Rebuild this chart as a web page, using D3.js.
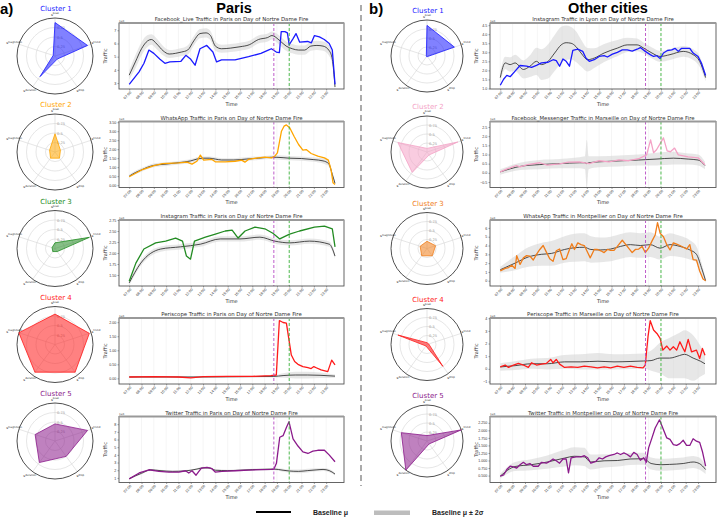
<!DOCTYPE html>
<html lang="en">
<head>
<meta charset="UTF-8"/>
<title>Traffic on Day of Nortre Dame Fire</title>
<script src="https://cdn.jsdelivr.net/npm/d3@7"></script>
<style>
  body { margin: 0; background: #fff; }
  svg { font-family: "DejaVu Sans", sans-serif; }
</style>
</head>
<body>
<script>
var W = 719, H = 517;

// x axis
var tickHours = d3.range(7, 24);
var timeTicks = ["07:00","08:00","09:00","10:00","11:00","12:00","13:00","14:00","15:00",
                 "16:00","17:00","18:00","19:00","20:00","21:00","22:00","23:00"];
var fireStart = 18.75, fireMark = 20.0;

// radar charts
var radarAxes = ["peak", "trend", "drop", "duration", "magnitude"];
var parisClusters = [
  [0.88, 0.9, 0.1, 0.67, 0.05],
  [0.48, 0.15, 0.2, 0.2, 0.15],
  [0.15, 0.95, 0.1, 0.1, 0.08],
  [0.8, 0.95, 0.9, 0.9, 1.0],
  [0.45, 0.9, 0.5, 0.7, 0.55]
];
var parisColors = ["#1a1aff", "#ffa500", "#228b22", "#ff1a1a", "#8b1a8b"];
var otherClusters = [
  [0.85, 0.8, 0.02, 0.02, 0.02],
  [0.1, 0.9, 0.1, 0.7, 0.85],
  [0.2, 0.25, 0.25, 0.25, 0.2],
  [0.05, 0.05, 0.75, 0.05, 0.85],
  [0.15, 1.0, 0.1, 1.0, 0.75]
];
var otherColors = ["#1a1aff", "#f4a3c6", "#f07d1a", "#ff1a1a", "#8b1a8b"];
var clusterNames = ["Cluster 1", "Cluster 2", "Cluster 3", "Cluster 4", "Cluster 5"];

// observed traffic: [hour, value]
var fbLiveParis = [[7.0,2.9],[7.8,3.85],[8.2,4.5],[8.6,5.5],[9.0,5.25],[9.5,4.8],[9.9,4.5],[10.3,4.6],[11.2,4.65],[11.6,5.1],[12.0,4.8],[12.35,4.35],[12.75,5.6],[13.3,5.85],[13.8,5.35],[14.1,4.6],[14.5,4.75],[15.6,4.75],[16.7,5.0],[17.7,5.25],[18.3,5.5],[18.55,5.6],[18.95,5.35],[19.2,5.3],[19.35,6.9],[19.65,6.9],[19.85,6.8],[20.0,5.9],[20.3,6.35],[20.55,6.75],[20.85,6.1],[21.5,6.15],[21.8,6.05],[22.05,6.6],[22.45,6.5],[22.85,6.3],[23.25,6.0],[23.5,5.5],[23.72,2.9]];
var whatsappParis = [[7.0,0.47],[8.08,0.87],[9.02,1.09],[9.69,1.2],[11.03,1.24],[11.7,1.28],[12.1,1.17],[12.5,1.33],[12.78,1.67],[13.05,1.39],[13.72,1.43],[13.99,1.3],[14.8,1.3],[15.6,1.33],[16.14,1.39],[16.4,1.28],[16.68,1.43],[17.48,1.52],[18.02,1.56],[18.56,1.52],[18.83,1.61],[19.04,1.8],[19.37,3.0],[19.58,3.28],[19.77,3.35],[20.04,3.19],[20.39,2.72],[20.76,2.26],[21.11,1.95],[21.38,1.98],[21.78,1.76],[22.32,1.61],[22.86,1.52],[23.18,1.39],[23.4,0.85],[23.56,0.13],[23.72,0.04]];
var instagramParis = [[7.0,1.36],[7.54,1.77],[8.19,2.09],[9.15,2.23],[9.96,2.27],[10.77,2.34],[11.33,2.27],[11.65,1.93],[11.98,1.86],[12.3,2.27],[13.19,2.36],[14.0,2.43],[14.8,2.5],[15.36,2.52],[15.85,2.34],[16.41,2.5],[17.22,2.59],[18.02,2.55],[18.67,2.45],[19.23,2.32],[20.03,2.43],[20.84,2.5],[22.05,2.59],[22.86,2.61],[23.5,2.55],[23.72,2.14]];
var periscopeParis = [[7.0,0.05],[9.0,0.06],[11.0,0.05],[12.0,0.02],[13.0,0.06],[15.0,0.07],[17.0,0.07],[18.5,0.1],[18.95,0.12],[19.2,2.06],[19.5,1.99],[19.77,1.97],[20.17,0.83],[20.44,0.6],[20.71,0.5],[21.11,0.42],[21.52,0.38],[21.78,0.35],[22.0,0.42],[22.19,0.38],[22.59,0.3],[23.13,0.24],[23.45,0.65],[23.72,0.48]];
var twitterParis = [[7.0,0.87],[7.81,1.64],[8.61,2.06],[9.42,1.84],[10.23,1.76],[11.03,1.76],[11.57,1.93],[11.84,1.64],[12.1,1.93],[12.43,1.35],[12.86,2.27],[13.32,2.36],[13.72,2.2],[13.99,1.76],[14.53,1.84],[15.6,1.93],[16.68,2.0],[17.75,2.08],[18.56,2.1],[18.75,2.12],[18.96,2.9],[19.23,6.3],[19.5,6.5],[19.77,7.57],[19.98,8.33],[20.31,6.09],[20.71,5.15],[21.11,4.4],[21.52,4.18],[21.92,4.48],[22.32,4.6],[22.86,4.6],[23.26,3.97],[23.72,3.1]];
var instagramLyon = [[7.0,1.18],[7.27,1.51],[7.53,1.72],[7.8,1.65],[8.2,1.96],[8.6,2.27],[9.13,2.23],[9.53,2.17],[9.93,2.28],[10.33,2.41],[10.87,2.45],[11.27,2.59],[11.53,2.54],[11.8,2.23],[12.07,2.63],[12.33,2.5],[12.6,2.23],[12.87,3.1],[13.27,3.17],[13.67,3.05],[13.93,2.68],[14.2,2.5],[14.6,2.59],[15.0,2.77],[15.4,2.81],[15.67,2.74],[16.07,2.9],[16.47,3.0],[16.87,3.13],[17.27,3.13],[17.67,3.07],[18.07,3.17],[18.33,3.26],[18.73,3.05],[19.13,2.87],[19.4,2.77],[19.67,2.81],[19.93,2.65],[20.2,2.96],[20.52,3.1],[20.87,3.13],[21.13,3.22],[21.4,3.05],[21.67,3.22],[21.93,3.22],[22.33,3.22],[22.6,2.96],[23.0,2.77],[23.27,2.41],[23.61,1.72]];
var messengerMarseille = [[7.0,0.05],[7.5,0.2],[7.8,0.27],[8.3,0.4],[8.6,0.33],[9.2,0.45],[10.2,0.55],[10.8,0.42],[11.8,0.49],[12.5,0.58],[13.4,0.6],[14.2,0.5],[15.0,0.66],[15.8,0.6],[16.6,0.71],[17.4,0.66],[18.2,0.77],[18.84,0.98],[19.16,1.8],[19.4,1.1],[19.64,1.26],[20.2,1.91],[20.5,1.2],[20.76,1.15],[21.1,1.35],[21.4,0.98],[22.2,0.87],[23.0,0.82],[23.56,0.44]];
var whatsappMontpellier = [[7.0,1.12],[7.4,1.4],[7.67,1.5],[7.93,1.75],[8.2,1.4],[8.33,2.85],[8.6,1.85],[8.87,2.6],[9.13,2.85],[9.4,2.8],[9.67,2.35],[9.93,3.0],[10.2,3.55],[10.47,4.0],[10.73,3.25],[11.0,2.5],[11.27,2.2],[11.53,3.4],[11.8,3.6],[12.07,2.4],[12.33,2.5],[12.6,3.55],[12.79,4.2],[13.0,3.55],[13.27,4.3],[13.53,4.1],[13.8,4.0],[14.07,3.2],[14.28,2.6],[14.6,3.55],[14.87,3.55],[15.13,3.4],[15.4,3.2],[15.67,3.55],[15.93,3.45],[16.2,3.45],[16.47,3.9],[16.87,4.6],[17.27,3.9],[17.67,3.2],[17.93,3.55],[18.2,3.6],[18.47,3.9],[18.73,3.2],[19.0,3.7],[19.27,4.5],[19.53,5.2],[19.72,6.6],[19.93,5.4],[20.2,5.0],[20.47,4.1],[20.73,3.5],[21.0,4.3],[21.27,4.15],[21.53,4.0],[21.8,3.8],[22.07,3.6],[22.33,4.1],[22.6,2.4],[22.87,2.35],[23.13,1.1],[23.4,0.2],[23.61,0.0]];
var periscopeMarseille = [[7.0,0.16],[7.4,0.3],[7.67,0.11],[8.07,0.3],[8.47,0.43],[8.87,0.3],[9.27,0.11],[9.53,0.48],[9.93,0.3],[10.33,0.37],[10.73,0.43],[11.08,0.74],[11.27,0.48],[11.53,0.74],[11.8,0.37],[12.2,0.11],[12.73,0.16],[13.27,0.11],[13.8,0.21],[14.33,0.16],[14.87,0.08],[15.4,0.16],[15.93,0.08],[16.47,0.21],[17.0,0.11],[17.53,0.21],[18.07,0.11],[18.55,0.08],[18.73,0.3],[18.95,2.54],[19.13,3.81],[19.4,3.07],[19.67,2.8],[19.93,2.41],[20.15,1.48],[20.47,1.8],[20.73,1.48],[21.0,1.75],[21.27,1.48],[21.53,2.14],[21.75,1.69],[21.93,1.35],[22.2,2.33],[22.47,1.35],[22.87,1.48],[23.13,0.82],[23.35,1.61],[23.56,1.08]];
var twitterMontpellier = [[7.0,0.48],[7.27,0.52],[7.53,0.7],[7.8,0.81],[8.07,0.79],[8.33,0.75],[8.6,0.86],[8.87,0.94],[9.13,0.86],[9.4,0.9],[9.67,0.81],[10.07,0.81],[10.33,0.94],[10.73,0.91],[11.0,0.97],[11.27,1.05],[11.53,0.99],[11.8,0.91],[12.07,1.05],[12.33,1.05],[12.52,0.59],[12.73,1.09],[13.13,1.12],[13.53,1.12],[13.8,1.16],[14.07,1.09],[14.33,0.91],[14.73,0.97],[15.0,1.09],[15.27,1.05],[15.53,1.12],[15.8,1.16],[16.2,1.2],[16.47,1.25],[16.73,1.2],[17.0,1.25],[17.27,1.2],[17.53,1.12],[17.8,1.27],[18.07,1.2],[18.33,1.01],[18.6,1.09],[18.81,0.94],[19.0,1.42],[19.27,1.75],[19.53,2.08],[19.88,2.35],[20.2,2.02],[20.47,1.75],[20.73,1.7],[21.0,1.53],[21.27,1.5],[21.53,1.56],[21.8,1.67],[22.07,1.5],[22.33,1.5],[22.6,1.72],[22.87,1.64],[23.13,1.6],[23.35,1.3],[23.61,0.81]];

// baseline: [hour, mu, 2 sigma]
var fbLiveParisBase = [[7.0,3.6,0.35],[7.5,4.6,0.5],[8.0,5.6,0.5],[8.5,6.2,0.45],[8.8,6.3,0.4],[9.25,5.95,0.4],[9.75,5.45,0.35],[10.25,5.2,0.3],[10.75,5.25,0.3],[11.25,5.35,0.3],[11.75,5.5,0.35],[12.25,6.2,0.35],[12.75,6.75,0.35],[13.25,6.8,0.35],[13.6,6.6,0.35],[14.0,5.8,0.35],[14.5,5.6,0.3],[15.25,5.65,0.3],[16.0,5.75,0.3],[16.75,5.9,0.3],[17.5,6.3,0.3],[18.25,6.45,0.3],[18.6,6.6,0.3],[19.25,6.2,0.35],[19.75,5.8,0.35],[20.25,5.6,0.35],[20.75,5.5,0.35],[21.25,5.5,0.35],[21.75,5.8,0.35],[22.25,5.85,0.35],[22.75,5.8,0.35],[23.25,5.45,0.4],[23.5,4.8,0.4],[23.72,2.7,0.3]];
var whatsappParisBase = [[7.0,0.5,0.08],[7.5,0.7,0.1],[8.0,0.85,0.1],[8.5,1.0,0.1],[9.0,1.1,0.1],[10.0,1.17,0.1],[11.0,1.25,0.1],[12.0,1.35,0.1],[12.5,1.45,0.1],[13.0,1.5,0.1],[13.5,1.5,0.1],[14.0,1.45,0.1],[14.5,1.4,0.1],[15.5,1.4,0.1],[16.5,1.45,0.1],[17.5,1.5,0.1],[18.5,1.55,0.1],[19.0,1.55,0.12],[20.0,1.5,0.12],[21.0,1.48,0.12],[22.0,1.42,0.12],[22.75,1.35,0.15],[23.2,1.2,0.15],[23.5,0.6,0.15],[23.72,0.1,0.1]];
var instagramParisBase = [[7.0,1.32,0.06],[7.94,1.77,0.06],[9.56,2.09,0.06],[11.17,2.14,0.06],[12.78,2.2,0.06],[14.4,2.32,0.06],[16.0,2.32,0.06],[17.62,2.36,0.06],[18.83,2.27,0.06],[20.04,2.23,0.06],[21.65,2.27,0.06],[23.26,2.2,0.06],[23.72,1.93,0.06]];
var periscopeParisBase = [[7.0,0.05,0.03],[10.0,0.05,0.03],[13.0,0.05,0.03],[16.0,0.06,0.03],[18.75,0.07,0.04],[19.5,0.1,0.08],[20.5,0.12,0.12],[21.5,0.12,0.12],[22.5,0.11,0.1],[23.72,0.08,0.06]];
var twitterParisBase = [[7.0,0.9,0.1],[8.0,1.6,0.12],[8.75,2.05,0.12],[9.5,1.95,0.12],[10.5,1.85,0.12],[11.5,1.9,0.12],[12.5,2.15,0.12],[13.0,2.3,0.15],[13.5,2.3,0.15],[14.0,2.0,0.12],[15.0,1.95,0.12],[16.0,2.0,0.12],[17.0,2.08,0.12],[18.0,2.12,0.15],[18.75,2.15,0.15],[19.5,2.0,0.2],[20.0,1.9,0.2],[20.75,1.85,0.25],[21.5,1.95,0.25],[22.25,2.05,0.2],[22.75,2.1,0.2],[23.25,1.95,0.2],[23.72,1.5,0.15]];
var instagramLyonBase = [[7.0,1.6,0.3],[7.4,2.41,0.35],[7.8,2.32,0.4],[8.2,2.41,0.45],[8.87,2.05,0.5],[9.4,2.23,0.6],[9.93,2.5,0.75],[10.33,2.32,0.85],[10.87,2.5,0.95],[11.4,2.96,1.0],[11.93,3.41,1.0],[12.33,3.53,0.95],[12.73,3.5,0.9],[13.13,3.31,0.85],[13.53,2.96,0.75],[14.07,2.59,0.65],[14.6,2.68,0.55],[15.4,2.96,0.5],[16.47,3.23,0.45],[17.27,3.41,0.4],[18.07,3.41,0.35],[18.6,3.23,0.3],[19.27,2.96,0.3],[19.93,2.77,0.3],[20.73,2.87,0.3],[21.8,3.05,0.3],[22.6,2.87,0.3],[23.13,2.5,0.3],[23.61,1.6,0.2]];
var messengerMarseilleBase = [[7.0,0.05,0.15],[8.6,0.35,0.2],[10.2,0.45,0.25],[11.8,0.5,0.25],[13.4,0.55,0.3],[13.85,0.55,0.35],[14.0,0.5,1.3],[14.15,0.55,0.35],[15.0,0.6,0.3],[16.6,0.65,0.3],[18.2,0.7,0.3],[19.6,0.75,0.35],[21.0,0.8,0.35],[22.2,0.75,0.3],[23.0,0.7,0.3],[23.56,0.4,0.2]];
var whatsappMontpellierBase = [[7.0,1.25,0.35],[8.2,2.0,0.8],[9.27,2.7,1.1],[10.33,3.0,1.3],[11.13,3.1,1.4],[12.2,3.55,1.5],[13.0,3.75,1.6],[13.8,3.8,1.6],[14.33,3.55,1.5],[15.13,3.5,1.4],[15.93,3.6,1.4],[16.73,3.9,1.4],[17.53,4.1,1.4],[18.33,4.0,1.4],[19.13,4.1,1.4],[19.93,3.7,1.3],[20.73,4.1,1.3],[21.53,3.9,1.2],[22.33,3.5,1.1],[22.87,3.0,0.9],[23.27,1.5,0.6],[23.61,0.0,0.3]];
var periscopeMarseilleBase = [[7.0,0.15,0.3],[8.2,0.25,0.35],[9.5,0.4,0.4],[10.8,0.4,0.45],[12.2,0.55,0.55],[13.5,0.55,0.6],[14.9,0.6,0.65],[16.2,0.55,0.6],[17.5,0.58,0.6],[18.6,0.62,0.6],[19.2,0.65,0.8],[19.9,0.85,1.2],[20.7,0.85,1.6],[21.5,1.05,1.8],[21.9,1.15,1.9],[22.6,0.85,1.8],[23.2,0.6,1.2],[23.56,0.4,0.8]];
var twitterMontpellierBase = [[7.0,0.48,0.08],[8.2,0.8,0.15],[9.5,0.86,0.18],[10.8,0.95,0.22],[12.2,1.08,0.28],[13.0,1.14,0.3],[13.8,1.12,0.3],[14.3,0.95,0.25],[15.4,0.99,0.22],[16.5,1.0,0.2],[17.5,1.05,0.2],[18.6,1.06,0.2],[19.2,0.9,0.2],[20.0,0.86,0.2],[20.7,0.87,0.2],[21.8,0.9,0.2],[22.6,0.95,0.2],[23.1,0.9,0.2],[23.61,0.7,0.15]];

// y ticks per chart
var fbLiveParisTicks = [3, 4, 5, 6, 7];
var whatsappParisTicks = [0, 0.5, 1, 1.5, 2, 2.5, 3, 3.5];
var instagramParisTicks = [1.5, 1.75, 2, 2.25, 2.5, 2.75];
var periscopeParisTicks = [0, 0.5, 1, 1.5, 2];
var twitterParisTicks = [1, 2, 3, 4, 5, 6, 7, 8];
var instagramLyonTicks = [1, 1.5, 2, 2.5, 3, 3.5, 4, 4.5];
var messengerMarseilleTicks = [-0.5, 0, 0.5, 1, 1.5, 2, 2.5];
var whatsappMontpellierTicks = [0, 1, 2, 3, 4, 5, 6];
var periscopeMarseilleTicks = [-1, 0, 1, 2, 3, 4];
var twitterMontpellierTicks = [0.5, 0.75, 1, 1.25, 1.5, 1.75, 2, 2.25];

var rowTops = [23, 121.5, 220, 318, 416.5];
var plotH = 66;
var radarY = [56, 152, 248.5, 344.5, 441];

var charts = [
  {col: 0, row: 0, title: "Facebook_Live Traffic in Paris on Day of Nortre Dame Fire", obs: fbLiveParis, base: fbLiveParisBase, ticks: fbLiveParisTicks, fmt: "d", dom: [2.55, 7.55]},
  {col: 0, row: 1, title: "WhatsApp Traffic in Paris on Day of Nortre Dame Fire", obs: whatsappParis, base: whatsappParisBase, ticks: whatsappParisTicks, fmt: ".2f", dom: [-0.13, 3.54]},
  {col: 0, row: 2, title: "Instagram Traffic in Paris on Day of Nortre Dame Fire", obs: instagramParis, base: instagramParisBase, ticks: instagramParisTicks, fmt: ".2f", dom: [1.25, 2.75]},
  {col: 0, row: 3, title: "Periscope Traffic in Paris on Day of Nortre Dame Fire", obs: periscopeParis, base: periscopeParisBase, ticks: periscopeParisTicks, fmt: ".2f", dom: [-0.2, 2.15]},
  {col: 0, row: 4, title: "Twitter Traffic in Paris on Day of Nortre Dame Fire", obs: twitterParis, base: twitterParisBase, ticks: twitterParisTicks, fmt: "d", dom: [0.4, 9.0]},
  {col: 1, row: 0, title: "Instagram Traffic in Lyon on Day of Nortre Dame Fire", obs: instagramLyon, base: instagramLyonBase, ticks: instagramLyonTicks, fmt: ".1f", dom: [0.97, 4.62]},
  {col: 1, row: 1, title: "Facebook_Messenger Traffic in Marseille on Day of Nortre Dame Fire", obs: messengerMarseille, base: messengerMarseilleBase, ticks: messengerMarseilleTicks, fmt: ".1f", dom: [-0.8, 2.8]},
  {col: 1, row: 2, title: "WhatsApp Traffic in Montpellier on Day of Nortre Dame Fire", obs: whatsappMontpellier, base: whatsappMontpellierBase, ticks: whatsappMontpellierTicks, fmt: "d", dom: [-0.6, 6.9]},
  {col: 1, row: 3, title: "Periscope Traffic in Marseille on Day of Nortre Dame Fire", obs: periscopeMarseille, base: periscopeMarseilleBase, ticks: periscopeMarseilleTicks, fmt: "d", dom: [-1.2, 4.02]},
  {col: 1, row: 4, title: "Twitter Traffic in Montpellier on Day of Nortre Dame Fire", obs: twitterMontpellier, base: twitterMontpellierBase, ticks: twitterMontpellierTicks, fmt: ".3f", dom: [0.27, 2.46]}
];

var cols = [
  {x0: 119, x1: 344, radarX: 55, radarR: 38, clusters: parisClusters, colors: parisColors},
  {x0: 490, x1: 716, radarX: 427, radarR: 36, clusters: otherClusters, colors: otherColors}
];

var svg = d3.select("body").append("svg")
  .attr("width", W)
  .attr("height", H);

// Panel headers
svg.append("text").attr("x", 0).attr("y", 14).text("a)")
  .attr("font-family", "Liberation Sans, Arial, sans-serif").attr("font-weight", "bold").attr("font-size", "15px");
svg.append("text").attr("x", 369).attr("y", 14).text("b)")
  .attr("font-family", "Liberation Sans, Arial, sans-serif").attr("font-weight", "bold").attr("font-size", "15px");
svg.append("text").attr("x", 234).attr("y", 12.5).text("Paris").attr("text-anchor", "middle")
  .attr("font-family", "Liberation Sans, Arial, sans-serif").attr("font-weight", "bold").attr("font-size", "14.5px");
svg.append("text").attr("x", 608).attr("y", 12.5).text("Other cities").attr("text-anchor", "middle")
  .attr("font-family", "Liberation Sans, Arial, sans-serif").attr("font-weight", "bold").attr("font-size", "14.5px");

// Divider
svg.append("line").attr("x1", 361).attr("x2", 361).attr("y1", 5).attr("y2", 486)
  .attr("stroke", "#888").attr("stroke-width", 1.4).attr("stroke-dasharray", "6,4");

// Radar charts
function drawRadar(cx, cy, r, vals, color, name) {
  var g = svg.append("g").attr("transform", "translate(" + cx + "," + cy + ")");
  var rs = d3.scaleLinear().domain([0, 1]).range([0, r]);
  var angle = function(i) { return i * 2 * Math.PI / radarAxes.length; };

  [0.25, 0.5, 0.75].forEach(function(t) {
    g.append("circle").attr("r", rs(t)).attr("fill", "none").attr("stroke", "#d5d5d5").attr("stroke-width", 0.6);
  });
  radarAxes.forEach(function(a, i) {
    g.append("line").attr("x1", 0).attr("y1", 0)
      .attr("x2", rs(1) * Math.sin(angle(i))).attr("y2", -rs(1) * Math.cos(angle(i)))
      .attr("stroke", "#d5d5d5").attr("stroke-width", 0.6);
  });
  g.append("circle").attr("r", r).attr("fill", "none").attr("stroke", "#222").attr("stroke-width", 0.8);

  [0.25, 0.5, 0.75].forEach(function(t) {
    g.append("text").attr("x", 2).attr("y", -rs(t) + 1.5).text(t)
      .attr("font-size", "3.6px").attr("fill", "#999");
  });

  g.append("path").datum(vals)
    .attr("d", d3.lineRadial().angle(function(d, i) { return angle(i); }).radius(function(d) { return rs(d); }).curve(d3.curveLinearClosed))
    .attr("fill", color).attr("fill-opacity", 0.55)
    .attr("stroke", color).attr("stroke-width", 0.8);

  radarAxes.forEach(function(a, i) {
    var rr = i === 0 ? r + 2.5 : r + 5;
    var lx = rr * Math.sin(angle(i)), ly = -rr * Math.cos(angle(i));
    var t = g.append("text").attr("x", lx).attr("y", i === 0 ? ly : ly + 1.5).attr("text-anchor", "middle")
      .attr("font-size", "3.6px").attr("fill", "#333");
    t.append("tspan").text("s");
    t.append("tspan").attr("font-size", "2.6px").attr("dy", -1.4).text(a);
  });

  svg.append("text").attr("x", cx + 1).attr("y", cy - r - 7).attr("text-anchor", "middle")
    .attr("font-size", "7px").attr("fill", color).text(name);
}

cols.forEach(function(c) {
  c.clusters.forEach(function(vals, i) {
    drawRadar(c.radarX, radarY[i], c.radarR, vals, c.colors[i], clusterNames[i]);
  });
});

// Traffic charts
charts.forEach(function(c, k) {
  var col = cols[c.col];
  var top = rowTops[c.row], bottom = top + plotH;
  var color = col.colors[c.row];
  var x = d3.scaleLinear().domain([6.17, 24.45]).range([col.x0, col.x1]);
  var y = d3.scaleLinear().domain(c.dom).range([bottom, top]);
  var g = svg.append("g");

  svg.append("clipPath").attr("id", "clip" + k).append("rect")
    .attr("x", col.x0).attr("y", top).attr("width", col.x1 - col.x0).attr("height", plotH);

  // vertical grid
  g.selectAll(".grid").data(tickHours).enter().append("line")
    .attr("x1", function(d) { return x(d); }).attr("x2", function(d) { return x(d); })
    .attr("y1", top).attr("y2", bottom)
    .attr("stroke", "#eeeeee").attr("stroke-width", 0.6);

  var inner = g.append("g").attr("clip-path", "url(#clip" + k + ")");

  // baseline band
  inner.append("path").datum(c.base)
    .attr("d", d3.area()
      .x(function(d) { return x(d[0]); })
      .y0(function(d) { return y(d[1] - d[2]); })
      .y1(function(d) { return y(d[1] + d[2]); })
      .curve(d3.curveMonotoneX))
    .attr("fill", "#d3d3d3").attr("fill-opacity", 0.55);

  // baseline mean
  inner.append("path").datum(c.base)
    .attr("d", d3.line().x(function(d) { return x(d[0]); }).y(function(d) { return y(d[1]); }).curve(d3.curveMonotoneX))
    .attr("fill", "none").attr("stroke", "#222").attr("stroke-width", 0.8);

  // observed
  inner.append("path").datum(c.obs)
    .attr("d", d3.line().x(function(d) { return x(d[0]); }).y(function(d) { return y(d[1]); }))
    .attr("fill", "none").attr("stroke", color).attr("stroke-width", 1.3).attr("stroke-linejoin", "round");

  // event markers
  [[fireStart, "#b84cc4"], [fireMark, "#3cb43c"]].forEach(function(m) {
    g.append("line").attr("x1", x(m[0])).attr("x2", x(m[0])).attr("y1", top).attr("y2", bottom)
      .attr("stroke", m[1]).attr("stroke-width", 0.9).attr("stroke-dasharray", "3,2");
  });

  // axes
  var xAxis = g.append("g").attr("transform", "translate(0," + bottom + ")")
    .call(d3.axisBottom(x).tickValues(tickHours).tickFormat(function(d, i) { return timeTicks[i]; }).tickSize(1.5));
  xAxis.selectAll("text")
    .attr("font-size", "3.7px").attr("fill", "#333")
    .attr("text-anchor", "end")
    .attr("transform", "translate(1,3) rotate(-45)")
    .attr("x", 0).attr("y", 0).attr("dy", "0.35em");
  xAxis.select(".domain").remove();
  xAxis.selectAll("line").attr("stroke", "#444").attr("stroke-width", 0.5);

  var yAxis = g.append("g").attr("transform", "translate(" + col.x0 + ",0)")
    .call(d3.axisLeft(y).tickValues(c.ticks).tickFormat(d3.format(c.fmt)).tickSize(1.5).tickPadding(1.2));
  yAxis.selectAll("text").attr("font-size", "3.6px").attr("fill", "#333");
  yAxis.select(".domain").remove();
  yAxis.selectAll("line").attr("stroke", "#444").attr("stroke-width", 0.5);

  // frame
  g.append("rect").attr("x", col.x0).attr("y", top).attr("width", col.x1 - col.x0).attr("height", plotH)
    .attr("fill", "none").attr("stroke", "#555").attr("stroke-width", 0.9);
  g.append("line").attr("x1", col.x0).attr("x2", col.x1).attr("y1", top).attr("y2", top)
    .attr("stroke", "#999").attr("stroke-width", 1.8);

  // labels
  g.append("text").attr("x", (col.x0 + col.x1) / 2).attr("y", top - 2).attr("text-anchor", "middle")
    .attr("font-size", "5.4px").attr("fill", "#333").text(c.title);
  g.append("text").attr("x", (col.x0 + col.x1) / 2).attr("y", bottom + 16.5).attr("text-anchor", "middle")
    .attr("font-size", "5px").attr("fill", "#333").text("Time");
  g.append("text").attr("transform", "translate(" + (col.x0 - 12.5) + "," + (top + plotH / 2) + ") rotate(-90)")
    .attr("text-anchor", "middle").attr("font-size", "5px").attr("fill", "#333").text("Traffic");
  g.append("text").attr("x", col.x0).attr("y", top - 1.2)
    .attr("font-size", "2.8px").attr("fill", "#555").text("1e6");
});

// Legend
svg.append("line").attr("x1", 256).attr("x2", 291).attr("y1", 512).attr("y2", 512)
  .attr("stroke", "#000").attr("stroke-width", 2);
svg.append("text").attr("x", 313).attr("y", 515).text("Baseline \u03bc")
  .attr("font-family", "Liberation Sans, Arial, sans-serif").attr("font-weight", "bold").attr("font-size", "7px").attr("fill", "#222");
svg.append("rect").attr("x", 374).attr("y", 510.5).attr("width", 36).attr("height", 4.5).attr("fill", "#bdbdbd");
svg.append("text").attr("x", 432).attr("y", 515).text("Baseline \u03bc \u00b1 2\u03c3")
  .attr("font-family", "Liberation Sans, Arial, sans-serif").attr("font-weight", "bold").attr("font-size", "7px").attr("fill", "#222");
</script>
</body>
</html>
